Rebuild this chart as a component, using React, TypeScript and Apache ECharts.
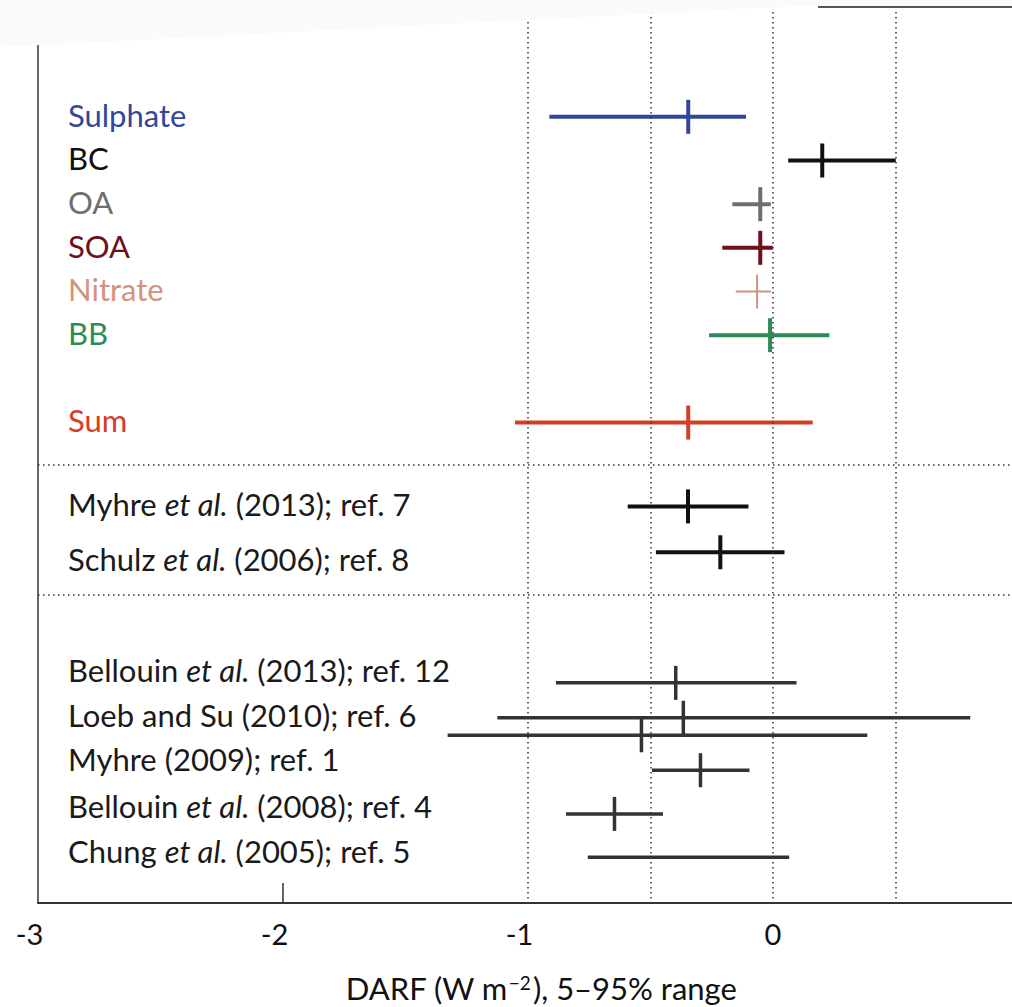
import React, { useEffect, useRef } from 'react';
import * as echarts from 'echarts';

// ---- data ----
const labelTexts = [
  'Sulphate', 'BC', 'OA', 'SOA', 'Nitrate', 'BB', 'Sum',
  'Myhre {i|et al.} (2013); ref. 7',
  'Schulz {i|et al.} (2006); ref. 8',
  'Bellouin {i|et al.} (2013); ref. 12',
  'Loeb and Su (2010); ref. 6',
  'Myhre (2009); ref. 1',
  'Bellouin {i|et al.} (2008); ref. 4',
  'Chung {i|et al.} (2005); ref. 5',
];
const labelSlots = [-0.05, 0.95, 1.95, 2.95, 3.95, 4.95, 6.95, 8.87, 10.13, 12.67, 13.7, 14.71, 15.78, 16.82];

const barSlots = [0, 1, 2, 3, 4, 5, 7, 8.92, 9.97, 12.96, 13.76, 14.16, 14.96, 15.96, 16.95];
const barCenters = [-0.346, 0.201, -0.052, -0.052, -0.065, -0.012, -0.346, -0.347, -0.215, -0.397, -0.366, -0.537, -0.296, -0.647, null];
const barLows = [-0.913, 0.062, -0.166, -0.207, -0.152, -0.261, -1.053, -0.593, -0.478, -0.886, -1.125, -1.328, -0.494, -0.845, -0.756];
const barHighs = [-0.110, 0.501, -0.009, -0.001, -0.008, 0.230, 0.162, -0.100, 0.047, 0.096, 0.805, 0.385, -0.096, -0.449, 0.066];

const xTickValues = [-3, -2, -1, 0, 1];
const gridValues = [-1, -0.5, 0, 0.5];
const separatorSlots = [7.97, 10.95];
const innerTickValues = [-2];

// ---- styles ----
const labelColors = ['#33479a', '#111111', '#6b6f70', '#6e0f1e', '#d4927c', '#2e8b58', '#d63d27',
  '#1a1a1a', '#1a1a1a', '#1a1a1a', '#1a1a1a', '#1a1a1a', '#1a1a1a', '#1a1a1a'];
const barColors = ['#33479a', '#111111', '#6b6f70', '#6e0f1e', '#d4927c', '#2e8b58', '#d63d27',
  '#111111', '#111111', '#333333', '#333333', '#333333', '#333333', '#333333', '#333333'];
const barWidths = [4, 4, 4, 4, 2, 4, 4, 4, 4, 3.5, 3.5, 3.5, 3.5, 3.5, 3.5];

const FONT = 'Lato, "Noto Sans", sans-serif';
const FS = 31;

export default function App() {
  const ref = useRef<HTMLDivElement>(null);
  useEffect(() => {
    document.body.style.margin = '0';
    const chart = echarts.init(ref.current!, null, { renderer: 'svg' });
    const barData = barSlots.map((s, i) => [barLows[i], barHighs[i], barCenters[i] == null ? '-' : barCenters[i], s]);
    const labelData = labelSlots.map((s) => [-3, s]);
    const option: any = {
      animation: false,
      backgroundColor: '#ffffff',
      grid: { left: 38, top: 12, right: 12, bottom: 104, containLabel: false },
      xAxis: {
        type: 'value', min: -3, max: 1, interval: 1,
        axisLine: { show: true, onZero: false, lineStyle: { color: '#333', width: 2 } },
        axisTick: { show: false },
        splitLine: { show: false },
        axisLabel: {
          margin: 16,
          color: '#111', fontSize: 29, fontFamily: FONT,
          formatter: (v: number) => {
            if (!xTickValues.includes(v) || v > 0) return '';
            return v < 0 ? '{n|-' + Math.abs(v) + '}' : String(v);
          },
          rich: { n: { color: '#111', fontSize: 29, fontFamily: FONT, padding: [0, 17, 0, 0] } },
        },
      },
      yAxis: {
        type: 'value', inverse: true, min: -2.4, max: 18,
        axisLine: { show: true, onZero: false, lineStyle: { color: '#333', width: 1.5 } },
        axisTick: { show: false }, axisLabel: { show: false }, splitLine: { show: false },
      },
      series: [
        {
          type: 'custom', z: 1,
          data: innerTickValues.map((v) => [v, 18]),
          renderItem: (params: any, api: any) => {
            const p = api.coord([api.value(0), api.value(1)]);
            return { type: 'line', shape: { x1: p[0], y1: p[1], x2: p[0], y2: p[1] - 20 }, style: { stroke: '#333', lineWidth: 1.5 } };
          },
          markLine: {
            silent: true, symbol: ['none', 'none'], label: { show: false },
            lineStyle: { color: '#333', width: 1.5, type: [1.5, 3.5] },
            data: [
              ...gridValues.map((v) => ({ xAxis: v })),
              ...separatorSlots.map((v) => ({ yAxis: v })),
            ],
          },
        },
        {
          type: 'custom', z: 3,
          data: barData,
          encode: { x: [0, 1, 2], y: 3 },
          renderItem: (params: any, api: any) => {
            const i = params.dataIndex;
            const slot = api.value(3);
            const a = api.coord([api.value(0), slot]);
            const b = api.coord([api.value(1), slot]);
            const children: any[] = [
              { type: 'line', shape: { x1: a[0], y1: a[1], x2: b[0], y2: b[1] }, style: { stroke: barColors[i], lineWidth: barWidths[i], lineCap: 'butt' } },
            ];
            const c = api.value(2);
            if (!isNaN(c)) {
              const pc = api.coord([c, slot]);
              children.push({ type: 'line', shape: { x1: pc[0], y1: pc[1] - 17, x2: pc[0], y2: pc[1] + 17 }, style: { stroke: barColors[i], lineWidth: barWidths[i], lineCap: 'butt' } });
            }
            return { type: 'group', children };
          },
        },
        {
          type: 'custom', z: 4,
          data: labelData,
          encode: { x: 0, y: 1 },
          renderItem: (params: any, api: any) => {
            const i = params.dataIndex;
            const p = api.coord([api.value(0), api.value(1)]);
            const col = labelColors[i];
            return {
              type: 'text', x: p[0] + 30, y: p[1],
              style: {
                text: labelTexts[i], fill: col, fontSize: FS, fontFamily: FONT,
                align: 'left', verticalAlign: 'middle',
                rich: { i: { fill: col, fontSize: FS, fontFamily: FONT, fontStyle: 'italic' } },
              },
            };
          },
        },
      ],
      graphic: [
        {
          type: 'text', x: 541, y: 988, z: 10,
          style: {
            text: 'DARF (W m{sup|−2}), 5–95% range', fill: '#111', fontSize: 31, fontFamily: FONT,
            align: 'center', verticalAlign: 'middle',
            rich: { sup: { fill: '#111', fontSize: 19, fontFamily: FONT, verticalAlign: 'top', lineHeight: 19, padding: [0, 2, 15, 1] } },
          },
        },
        {
          type: 'polygon', z: 50, silent: true,
          shape: { points: [[0, 0], [1030, 0], [1030, 6], [800, 6], [0, 47]] },
          style: { fill: '#fafafa' },
        },
        {
          type: 'line', z: 51, silent: true,
          shape: { x1: 818, y1: 7, x2: 1030, y2: 7 },
          style: { stroke: '#555', lineWidth: 2 },
        },
      ],
    };
    chart.setOption(option);
    return () => chart.dispose();
  }, []);
  return (
    <div style={{ width: 1012, height: 1007, overflow: 'hidden', position: 'relative', background: '#fff' }}>
      <div ref={ref} style={{ width: 1030, height: 1007 }} />
    </div>
  );
}
